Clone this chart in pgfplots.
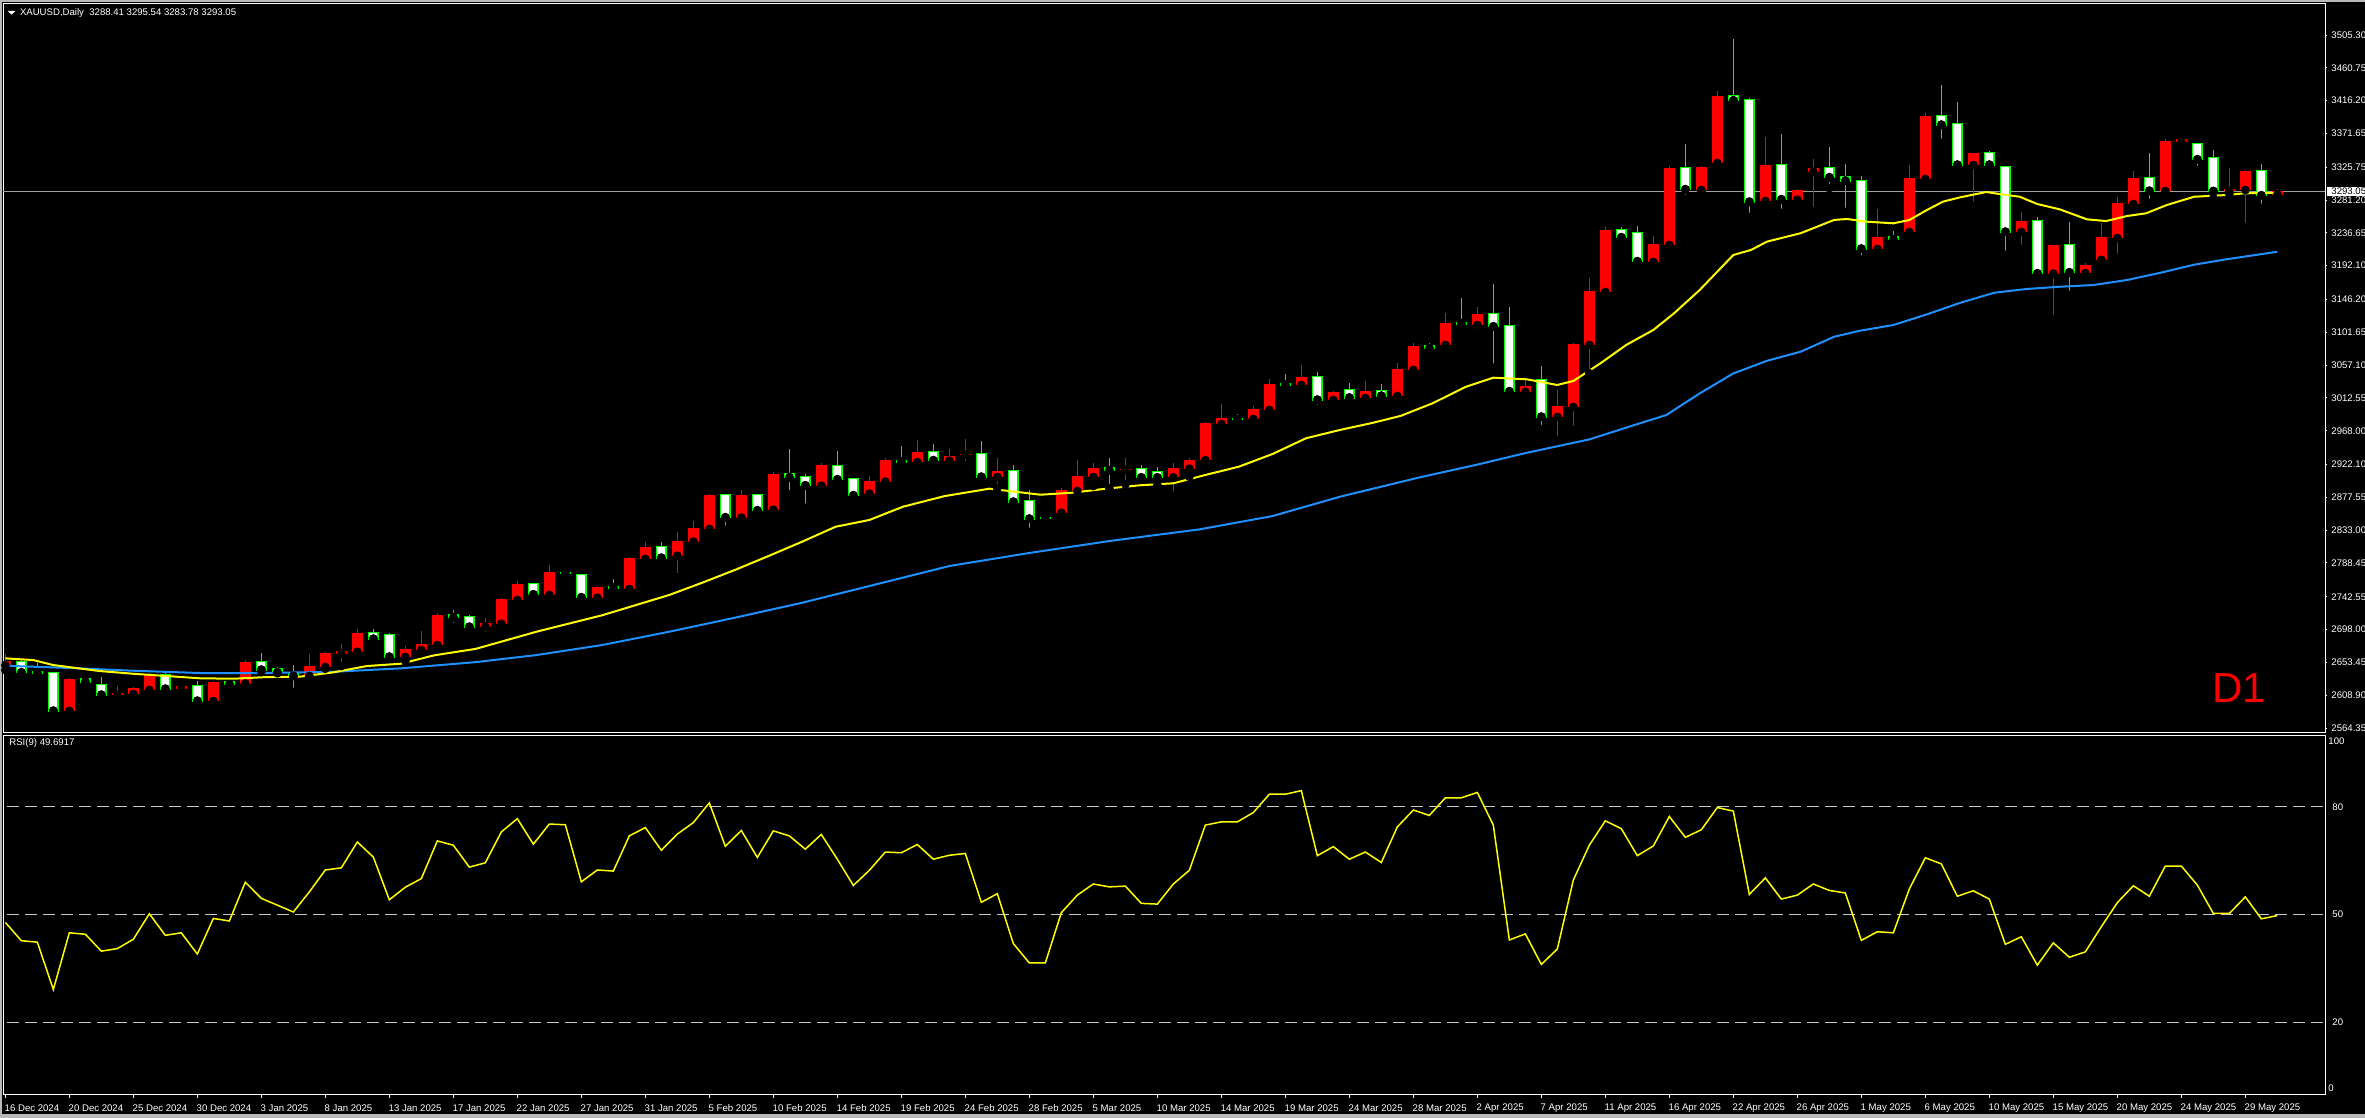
\documentclass[border=0pt]{standalone}
\usepackage{fontspec}
\setmainfont{Liberation Sans}
\usepackage{pgfplots}
\pgfplotsset{compat=1.18}
\usepackage{pgfplotstable}

\definecolor{mtred}{RGB}{255,0,0}
\definecolor{mtgreen}{RGB}{0,255,0}
\definecolor{mayel}{RGB}{255,255,0}
\definecolor{mablue}{RGB}{30,144,255}
\definecolor{pline}{RGB}{160,160,160}
\definecolor{lvl}{RGB}{200,200,200}
\newcommand\lbl{\fontsize{4.8}{5}\selectfont}

% bullish days (close > open): red bodies
\pgfplotstableread{
i O H L C
0 2649.4 2664.8 2643.1 2655.7
4 2587.4 2632.6 2586.0 2630.8
7 2609.1 2621.3 2607.7 2611.8
8 2610.5 2619.5 2609.8 2618.6
9 2615.9 2638.6 2614.1 2637.2
11 2617.2 2622.0 2613.2 2621.3
13 2600.9 2627.5 2595.5 2626.7
15 2624.7 2656.6 2621.7 2653.9
19 2635.0 2664.8 2634.5 2648.5
20 2647.1 2667.5 2644.8 2666.1
21 2665.2 2678.3 2648.5 2668.8
22 2667.9 2698.7 2662.5 2693.3
25 2660.7 2675.6 2655.3 2671.6
26 2670.2 2696.0 2666.1 2678.3
27 2677.0 2720.4 2675.6 2717.7
30 2701.8 2713.7 2688.3 2706.9
31 2705.9 2740.8 2701.8 2739.5
32 2738.1 2763.8 2736.7 2759.8
34 2744.9 2785.6 2743.5 2776.1
37 2741.2 2757.1 2730.4 2755.7
39 2753.0 2796.5 2744.0 2795.1
40 2793.8 2816.9 2788.8 2810.1
42 2798.3 2830.4 2768.9 2818.2
43 2817.3 2845.4 2806.4 2835.9
44 2834.5 2882.1 2832.2 2880.7
46 2849.9 2887.5 2847.2 2880.7
48 2860.7 2911.9 2853.9 2909.2
51 2893.3 2923.5 2891.9 2920.8
54 2882.5 2906.1 2878.4 2899.7
55 2898.8 2930.3 2890.6 2927.6
57 2925.3 2955.4 2918.5 2939.1
59 2927.3 2943.2 2925.9 2933.7
60 2935.3 2956.8 2921.2 2936.7
62 2905.1 2930.3 2889.8 2913.2
66 2856.6 2889.8 2855.3 2887.5
67 2886.1 2928.9 2877.0 2906.5
68 2905.1 2924.2 2892.9 2917.4
70 2914.6 2931.6 2895.2 2916.0
73 2904.6 2923.5 2879.7 2917.4
74 2916.5 2930.3 2905.5 2928.9
75 2928.0 2979.5 2927.0 2978.5
76 2977.1 3004.3 2975.8 2985.3
78 2983.9 3001.6 2981.0 2997.5
79 2996.1 3038.2 2992.0 3031.4
81 3029.9 3057.1 3024.6 3040.8
83 3009.7 3021.9 3009.0 3020.6
85 3012.4 3035.5 3001.6 3021.9
87 3015.1 3059.9 3013.8 3051.8
88 3050.4 3087.1 3046.4 3083.0
90 3084.4 3127.9 3074.9 3114.3
92 3111.5 3135.9 3099.3 3126.4
95 3020.6 3036.8 3013.8 3028.6
97 2986.6 3023.3 2955.4 3001.6
98 3000.2 3087.1 2969.1 3085.7
99 3084.4 3175.3 3046.0 3157.6
100 3156.3 3244.7 3149.5 3240.6
103 3197.1 3232.4 3195.8 3221.5
104 3220.2 3327.4 3217.5 3324.7
106 3294.8 3327.4 3293.4 3326.0
107 3331.4 3429.2 3327.4 3422.4
110 3279.8 3366.8 3275.7 3328.7
112 3281.6 3296.2 3277.1 3294.8
113 3319.7 3336.9 3266.3 3324.7
117 3214.7 3269.0 3208.0 3231.0
119 3237.8 3328.7 3236.5 3311.1
120 3309.7 3399.4 3304.3 3395.3
123 3328.7 3345.0 3273.1 3345.0
126 3237.8 3264.9 3214.7 3252.7
128 3181.3 3220.2 3119.7 3220.2
130 3181.9 3195.5 3179.2 3192.8
131 3199.8 3250.0 3199.8 3231.0
132 3229.6 3285.3 3202.6 3277.1
133 3275.8 3320.6 3273.1 3311.1
135 3293.4 3364.0 3285.3 3361.3
136 3360.4 3365.4 3354.6 3364.0
139 3293.4 3324.7 3289.3 3296.2
140 3294.8 3322.0 3244.6 3320.6
142 3288.41 3295.54 3283.78 3293.05
}\bull

% bearish days (close < open): white bodies, green outline
\pgfplotstableread{
i O H L C
1 2654.3 2656.6 2632.6 2639.9
2 2640.2 2652.1 2632.6 2639.5
3 2638.8 2640.6 2581.9 2587.8
5 2630.4 2633.4 2621.7 2627.2
6 2622.3 2633.5 2607.7 2609.5
10 2636.3 2638.6 2610.4 2617.6
12 2621.3 2628.1 2598.2 2601.3
14 2626.3 2629.5 2621.7 2623.6
16 2653.5 2666.1 2640.6 2643.5
17 2644.0 2647.1 2638.8 2639.9
18 2638.8 2649.8 2613.2 2635.0
23 2692.9 2698.7 2683.8 2685.5
24 2690.2 2693.3 2660.5 2661.1
28 2717.3 2724.5 2701.4 2714.6
29 2714.6 2717.7 2701.0 2701.8
33 2759.4 2759.8 2735.8 2745.8
35 2775.2 2777.5 2769.7 2774.5
36 2771.6 2773.4 2738.5 2741.8
38 2755.3 2766.5 2747.9 2754.6
41 2809.7 2816.9 2793.8 2795.5
45 2880.3 2880.7 2833.5 2850.4
47 2880.3 2882.1 2852.6 2859.9
49 2908.8 2943.2 2881.1 2904.7
50 2904.7 2908.8 2863.4 2893.8
52 2920.3 2940.4 2891.9 2902.0
53 2902.0 2903.4 2879.0 2880.3
56 2926.9 2947.2 2924.4 2926.2
58 2938.7 2949.9 2917.1 2927.9
61 2936.0 2954.0 2900.1 2905.5
63 2912.8 2921.5 2867.1 2871.6
64 2872.1 2887.5 2830.4 2848.6
65 2849.8 2853.9 2838.0 2849.0
69 2917.4 2930.3 2889.8 2914.3
71 2916.0 2920.8 2901.7 2904.6
72 2911.9 2919.0 2894.3 2904.6
77 2984.2 2990.7 2981.0 2983.5
80 3031.3 3045.0 3021.9 3030.6
82 3040.4 3047.7 2997.5 3010.1
84 3023.0 3032.8 3004.7 3013.0
86 3021.5 3031.4 3011.1 3015.5
89 3082.6 3087.1 3072.6 3079.9
91 3114.3 3148.5 3110.5 3113.5
93 3126.0 3167.1 3053.6 3109.7
94 3109.7 3135.9 3015.5 3021.5
96 3036.4 3055.8 2970.0 2987.0
101 3240.2 3244.7 3218.9 3230.7
102 3236.1 3246.0 3192.1 3198.1
105 3324.3 3357.3 3282.6 3295.8
108 3421.9 3499.8 3404.8 3416.6
109 3416.6 3420.0 3258.1 3278.9
111 3328.3 3370.9 3263.6 3282.2
114 3324.3 3353.2 3297.5 3312.1
115 3312.1 3330.1 3264.9 3307.5
116 3306.7 3313.8 3200.2 3215.2
118 3230.6 3239.2 3221.8 3227.9
121 3394.9 3437.4 3358.6 3383.5
122 3384.0 3414.3 3319.2 3329.2
124 3344.6 3347.8 3327.4 3329.2
125 3325.6 3326.0 3206.6 3238.2
127 3252.3 3258.1 3174.0 3181.7
129 3219.8 3251.4 3152.2 3183.1
134 3310.7 3345.0 3277.1 3293.8
137 3356.9 3357.3 3322.0 3336.5
138 3337.9 3349.1 3283.9 3293.4
141 3320.2 3330.1 3270.4 3287.6
}\bear

% RSI(9)
\pgfplotstableread{
i v
0 47.8
1 42.7
2 42.3
3 29.1
4 44.9
5 44.5
6 39.8
7 40.5
8 43.1
9 50.2
10 44.2
11 44.9
12 39.0
13 48.9
14 48.2
15 59.0
16 54.5
17 52.6
18 50.7
19 56.3
20 62.4
21 63.0
22 70.2
23 66.0
24 54.1
25 57.6
26 60.0
27 70.5
28 69.3
29 63.2
30 64.4
31 73.0
32 76.7
33 69.6
34 75.2
35 75.0
36 59.1
37 62.4
38 62.1
39 71.9
40 74.2
41 67.9
42 72.4
43 75.6
44 81.1
45 69.0
46 73.4
47 65.9
48 73.3
49 71.9
50 68.2
51 72.3
52 65.4
53 58.1
54 62.3
55 67.4
56 67.2
57 69.5
58 65.4
59 66.5
60 67.0
61 53.4
62 55.8
63 41.9
64 36.5
65 36.5
66 50.5
67 55.4
68 58.5
69 57.7
70 57.9
71 53.1
72 52.9
73 58.5
74 62.3
75 74.9
76 75.8
77 75.8
78 78.4
79 83.5
80 83.5
81 84.5
82 66.4
83 68.9
84 65.4
85 67.4
86 64.5
87 74.4
88 79.1
89 77.6
90 82.5
91 82.5
92 84.0
93 74.9
94 42.9
95 44.6
96 36.1
97 40.4
98 59.6
99 69.3
100 76.1
101 73.9
102 66.4
103 69.1
104 77.3
105 71.5
106 73.6
107 79.8
108 78.8
109 55.6
110 60.2
111 54.3
112 55.4
113 58.5
114 56.7
115 56.0
116 42.8
117 45.2
118 44.9
119 57.1
120 65.8
121 64.1
122 55.1
123 56.6
124 54.3
125 41.7
126 43.8
127 35.9
128 42.1
129 38.1
130 39.6
131 46.6
132 53.3
133 58.0
134 55.1
135 63.5
136 63.5
137 58.2
138 50.3
139 50.3
140 54.9
141 48.8
142 49.7
}\rsi

\pgfplotsset{
  mt/.style={
    scale only axis, width=1161pt,
    xmin=-0.146, xmax=144.98,
    axis line style={white, line width=0.5pt},
    tick label style={font=\lbl, text=white, inner sep=0pt},
    /pgf/number format/assume math mode=true,
    ytick pos=right, yticklabel pos=right,
    tick align=outside,
    clip=true,
  },
  candle/.style={only marks, mark=none,
    error bars/.cd, y dir=plus, y explicit, error mark=none,
    error bar style={solid, #1}},
}

\begin{document}
\begin{tikzpicture}
\useasboundingbox (0,0) rectangle (1182.5pt,-559pt);
\fill[black] (0,0) rectangle (1182.5pt,-559pt);
\fill[gray!55] (0,0) rectangle (1182.5pt,-1pt);
\fill[gray!55] (0,0) rectangle (1pt,-559pt);
\fill[gray!55] (0,-557pt) rectangle (1182.5pt,-559pt);

% price panel
\begin{axis}[mt,
  at={(1.5pt,-2pt)}, anchor=north west, height=364pt,
  ymin=2558.9, ymax=3547.4,
  xtick=\empty,
  ytick={2564.35,2608.90,2653.45,2698.00,2742.55,2788.45,2833.00,2877.55,2922.10,2968.00,3012.55,3057.10,3101.65,3146.20,3192.10,3236.65,3281.20,3325.75,3371.65,3416.20,3460.75,3505.30},
  yticklabels={2564.35,2608.90,2653.45,2698.00,2742.55,2788.45,2833.00,2877.55,2922.10,2968.00,3012.55,3057.10,3101.65,3146.20,3192.10,3236.65,3281.20,3325.75,3371.65,3416.20,3460.75,3505.30},
  major tick length=1pt,
  ytick style={white, line width=0.5pt},
  yticklabel style={anchor=west, xshift=2pt},
]
\addplot[pline, line width=0.5pt] coordinates {(-1,3293.05) (146,3293.05)};
% wicks
\addplot[candle={draw=mtred, line width=0.5pt}] table[x=i, y=L, y error plus expr=\thisrow{H}-\thisrow{L}] {\bull};
\addplot[candle={draw=mtgreen, line width=0.5pt}] table[x=i, y=L, y error plus expr=\thisrow{H}-\thisrow{L}] {\bear};
% bodies
\addplot[candle={draw=mtred, line width=5.5pt}] table[x=i, y=O, y error plus expr=\thisrow{C}-\thisrow{O}] {\bull};
\addplot[candle={draw=mtgreen, line width=5.5pt, shorten <=-0.5pt, shorten >=-0.5pt}] table[x=i, y=C, y error plus expr=\thisrow{O}-\thisrow{C}] {\bear};
\addplot[candle={draw=white, line width=4pt}] table[x=i, y=C, y error plus expr=\thisrow{O}-\thisrow{C}] {\bear};
% moving averages
\addplot[mablue, line width=1pt] coordinates {
(0,2648.9)(4.2,2645.7)(8,2642.1)(12.2,2639.0)(16.3,2639.0)(20.5,2640.7)(24.7,2645.3)
(29.4,2653.8)(33.2,2663.4)(37.3,2677.0)(41.5,2695.1)(45.7,2714.6)(49.8,2734.4)(54,2757.1)
(59,2784.3)(64,2802.0)(69,2818.2)(74.65,2834.1)(79.2,2852.1)(83.4,2878.3)(88.4,2904.7)
(92,2922.0)(95,2937.6)(99,2956.2)(101.8,2975.6)(103.8,2989.2)(105.9,3018.7)(108,3045.8)
(110.1,3062.9)(112.2,3075.2)(114.3,3095.6)(115.9,3103.7)(118,3111.5)(120.1,3126.0)
(122.2,3141.8)(124.3,3155.3)(126.3,3160.4)(128.4,3163.5)(130.5,3165.8)(132.6,3172.6)
(134.7,3182.5)(136.8,3193.4)(138.8,3200.7)(142,3211.0)};
\addplot[mayel, line width=1pt] coordinates {
(0,2658.9)(1.75,2656.6)(3,2649.8)(5.9,2641.7)(8,2638.0)(10.1,2634.9)(12.2,2631.8)
(14.3,2631.3)(16.3,2633.5)(18.4,2634.0)(20.5,2639.9)(22.6,2648.5)(24.7,2651.6)(26.8,2663.0)
(29.4,2671.8)(33.2,2695.1)(37.3,2717.4)(41.5,2745.0)(43.6,2762.0)(45.7,2779.8)(47.7,2797.9)
(49.8,2817.3)(51.9,2837.7)(54,2846.8)(56.1,2864.8)(58.7,2879.2)(61.5,2889.3)(64.7,2881.1)
(66.7,2883.9)(68.8,2889.3)(70.9,2893.9)(73,2896.6)(75,2907.9)(77.1,2919.2)(79.2,2936.4)
(81.3,2957.8)(83.4,2969.0)(85.5,2978.9)(87.2,2988.1)(89.2,3005.2)(91.3,3027.8)(93,3040.0)
(95.1,3037.8)(97,3030.1)(98,3035.5)(99.7,3059.6)(101.3,3084.4)(103,3104.8)(104.3,3127.5)
(105.9,3159.1)(107,3184.0)(108,3206.6)(109.1,3213.4)(110.1,3224.7)(112.2,3236.1)
(114.3,3254.2)(115.1,3255.5)(116.3,3251.9)(118,3249.6)(119,3254.1)(120.1,3267.7)
(121.1,3279.0)(122.2,3285.0)(123.8,3292.1)(125.1,3288.0)(125.9,3285.7)(127,3275.8)
(128.4,3268.6)(130.1,3255.0)(131.3,3252.7)(132.6,3259.5)(133.8,3263.2)(135.1,3274.5)
(136.8,3285.7)(138.8,3288.0)(139.9,3290.3)(142,3291.1)};
\end{axis}

% RSI panel
\begin{axis}[mt,
  at={(1.5pt,-367.5pt)}, anchor=north west, height=179.5pt,
  ymin=0, ymax=100,
  ytick={20,50,80}, yticklabels={20,50,80},
  ytick style={draw=none},
  yticklabel style={anchor=west, xshift=1.5pt},
  xtick={0,4,...,140},
  xticklabels={16 Dec 2024,20 Dec 2024,25 Dec 2024,30 Dec 2024,3 Jan 2025,8 Jan 2025,13 Jan 2025,17 Jan 2025,22 Jan 2025,27 Jan 2025,31 Jan 2025,5 Feb 2025,10 Feb 2025,14 Feb 2025,19 Feb 2025,24 Feb 2025,28 Feb 2025,5 Mar 2025,10 Mar 2025,14 Mar 2025,19 Mar 2025,24 Mar 2025,28 Mar 2025,2 Apr 2025,7 Apr 2025,11 Apr 2025,16 Apr 2025,22 Apr 2025,26 Apr 2025,1 May 2025,6 May 2025,10 May 2025,15 May 2025,20 May 2025,24 May 2025,29 May 2025},
  xtick pos=bottom,
  xtick style={white, line width=0.5pt},
  major tick length=2pt,
  xticklabel style={anchor=west, xshift=-0.5pt, yshift=-5pt},
]
\addplot[lvl, line width=0.5pt, dash pattern=on 6pt off 3pt] coordinates {(-1,80) (146,80)};
\addplot[lvl, line width=0.5pt, dash pattern=on 6pt off 3pt] coordinates {(-1,50) (146,50)};
\addplot[lvl, line width=0.5pt, dash pattern=on 6pt off 3pt] coordinates {(-1,20) (146,20)};
\addplot[mayel, line width=0.75pt] table[x=i, y=v] {\rsi};
\end{axis}

% labels and markers of the terminal
\fill[white] (3.8pt,-5.4pt) -- (7.8pt,-5.4pt) -- (5.8pt,-7.3pt) -- cycle;
\node[anchor=west, inner sep=0pt, text=white, font=\lbl] at (9.8pt,-6.4pt) {XAUUSD,Daily\ \ 3288.41 3295.54 3283.78 3293.05};
\node[anchor=west, inner sep=0pt, text=white, font=\lbl] at (4.5pt,-371.3pt) {RSI(9) 49.6917};
\node[anchor=west, inner sep=0pt, text=mtred] at (1106pt,-344pt) {\fontsize{21}{21}\selectfont D1};
\fill[white] (1163.5pt,-93.5pt) rectangle (1182.5pt,-98pt);
\node[anchor=west, inner sep=0pt, text=black, font=\lbl] at (1165.5pt,-95.8pt) {3293.05};
\node[anchor=west, inner sep=0pt, text=white, font=\lbl] at (1164pt,-370.5pt) {100};
\node[anchor=west, inner sep=0pt, text=white, font=\lbl] at (1164pt,-544pt) {0};
\end{tikzpicture}
\end{document}
